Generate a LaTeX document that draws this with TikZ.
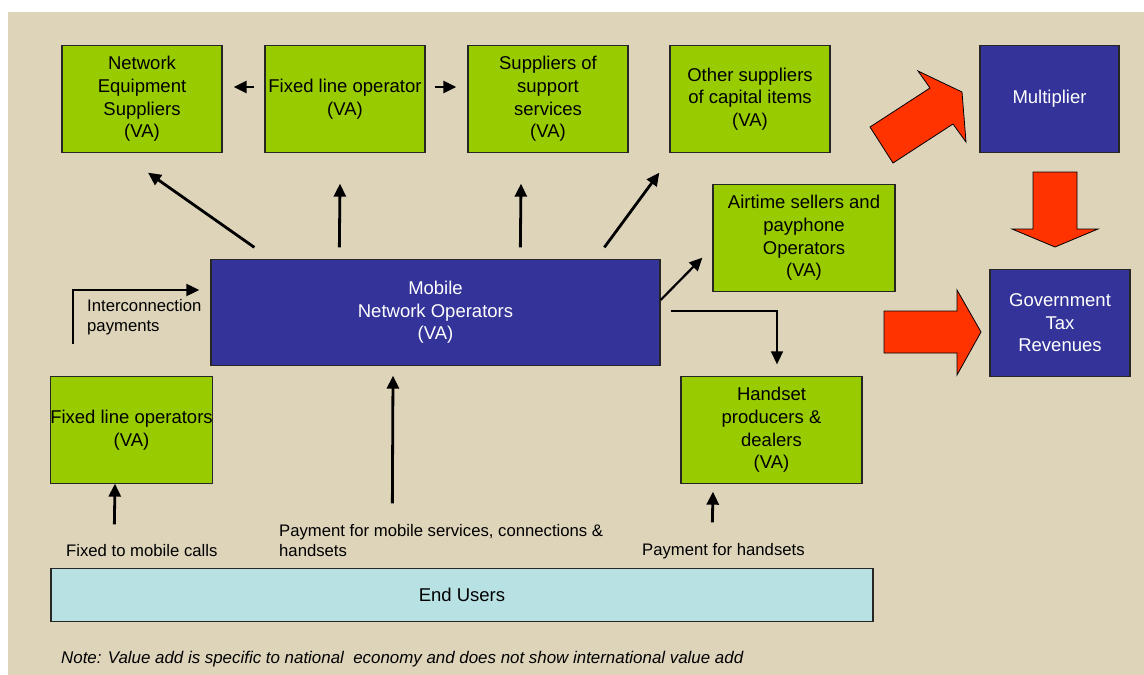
\documentclass[tikz,border=0pt]{standalone}
\usepackage{fontspec}
\setmainfont{Liberation Sans}
\usetikzlibrary{shapes,arrows.meta}
\usetikzlibrary{positioning}

\definecolor{sand}{RGB}{221,212,186}
\definecolor{vagreen}{RGB}{153,204,0}
\definecolor{opblue}{RGB}{51,51,153}
\definecolor{userblue}{RGB}{184,225,228}
\definecolor{bigred}{RGB}{255,51,0}

\begin{document}
\begin{tikzpicture}[x=1pt, y=-1pt,
    every node/.style = {inner sep=0pt},
    boxtext/.style = {font=\fontsize{18.5}{22.6}\selectfont, align=center},
    greenbox/.style = {boxtext, draw=black!85, line width=1.3pt, fill=vagreen,
                       minimum width=160pt, minimum height=107pt},
    bluebox/.style = {greenbox, fill=opblue, text=white},
    smalltext/.style = {font=\fontsize{16.7}{20}\selectfont, align=left, anchor=west},
    arr/.style = {line width=2.8pt, -{Triangle[length=13pt,width=12pt]}},
    thinarr/.style = {line width=1.6pt, -{Triangle[length=13pt,width=12pt]}},
    fatarrow/.style = {fill=bigred, draw=black, line width=0.8pt, line join=miter}]

\useasboundingbox (0,0) rectangle (1144,675);
\fill[sand] (8,12) rectangle (1144,675);

% top row
\node[greenbox] (nes)  at (142,99)  {Network\\Equipment\\Suppliers\\(VA)};
\node[greenbox] (flo)  at (345,99)  {Fixed line operator\\(VA)};
\node[greenbox] (sss)  at (548,99)  {Suppliers of\\support\\services\\(VA)};
\node[greenbox] (osc)  at (750,99)  {Other suppliers\\of capital items\\(VA)};
\node[bluebox, minimum width=139pt] (mult) at (1049.5,99) {Multiplier};

% middle
\node[greenbox, minimum width=182pt] (air) at (804,238) {Airtime sellers and\\payphone\\Operators\\(VA)};
\node[bluebox, minimum width=449pt, minimum height=106pt] (mno) at (435.5,312.5) {Mobile\\Network Operators\\(VA)};
\node[bluebox, minimum width=140pt] (gov) at (1060,323) {Government\\Tax\\Revenues};

% lower row
\node[greenbox, minimum width=161pt] (flops) at (131.5,430) {Fixed line operators\\(VA)};
\node[greenbox, minimum width=181pt] (hand)  at (771.5,430) {Handset\\producers \&\\dealers\\(VA)};
\node[greenbox, fill=userblue, minimum width=822pt, minimum height=53pt] (end) at (462,595) {End Users};

% flows between suppliers
\draw[arr] ([xshift=-10pt,yshift=12pt]flo.west) -- ([xshift=11pt,yshift=12pt]nes.east);
\draw[arr] ([xshift=9pt,yshift=12pt]flo.east) -- ([xshift=-11pt,yshift=12pt]sss.west);

% from the mobile operators
\draw[arr] ([xshift=44pt,yshift=11.5pt]mno.north west) -- ([xshift=6pt,yshift=-19.5pt]nes.south);
\draw[arr] ([xshift=129pt,yshift=11.5pt]mno.north west) -- ([xshift=-5pt,yshift=-30.5pt]flo.south);
\draw[arr] ([xshift=310pt,yshift=11.5pt]mno.north west) -- ([xshift=-27pt,yshift=-30.5pt]sss.south);
\draw[arr] ([xshift=394pt,yshift=11.5pt]mno.north west) -- ([xshift=-10pt,yshift=-19.5pt]osc.south west);
\draw[thinarr, line width=2.2pt] ([yshift=12.5pt]mno.east) -- ([xshift=-10pt,yshift=34.5pt]air.south west);
\draw[thinarr] ([xshift=10pt,yshift=1.5pt]mno.east) -| ([xshift=5.5pt,yshift=11.5pt]hand.north);

% interconnection
\coordinate (ic) at (73,344);
\draw[thinarr, line width=2pt] (ic) |- ([xshift=-11pt,yshift=22.5pt]mno.west);
\node[smalltext] (iclabel) at (87,317.5) {Interconnection\\payments};

% from end users
\draw[arr] ([xshift=64pt,yshift=43.5pt]end.north west) -- ([xshift=-16.5pt,yshift=0.5pt]flops.south);
\draw[arr] ([xshift=342pt,yshift=64.5pt]end.north west) -- ([xshift=-42.5pt,yshift=-9.5pt]mno.south);
\draw[arr] ([xshift=662pt,yshift=45.5pt]end.north west) -- ([xshift=-58.5pt,yshift=-7.5pt]hand.south);

\node[smalltext] (fmc) at (66,551) {Fixed to mobile calls};
\node[smalltext] (pms) at (279,541) {Payment for mobile services, connections \&\\handsets};
\node[smalltext] (pfh) at (642,551) {Payment for handsets};

% big red arrows
\filldraw[fatarrow] (870,127) -- (930,88) -- (918,71) -- (962,92) -- (966,142) -- (953,124) -- (893,163) -- cycle;
\filldraw[fatarrow] (1033,172) -- (1077,172) -- (1077,229) -- (1098,229) -- (1055,247) -- (1012,229) -- (1033,229) -- cycle;
\filldraw[fatarrow] (884,311) -- (957,311) -- (957,290) -- (981,332) -- (957,375) -- (957,353) -- (884,353) -- cycle;

% note
\node[smalltext, font=\fontsize{16.9}{19}\selectfont\itshape] (note) at (61,659)
  {Note: Value add is specific to national\ \ economy and does not show international value add};
\end{tikzpicture}
\end{document}
